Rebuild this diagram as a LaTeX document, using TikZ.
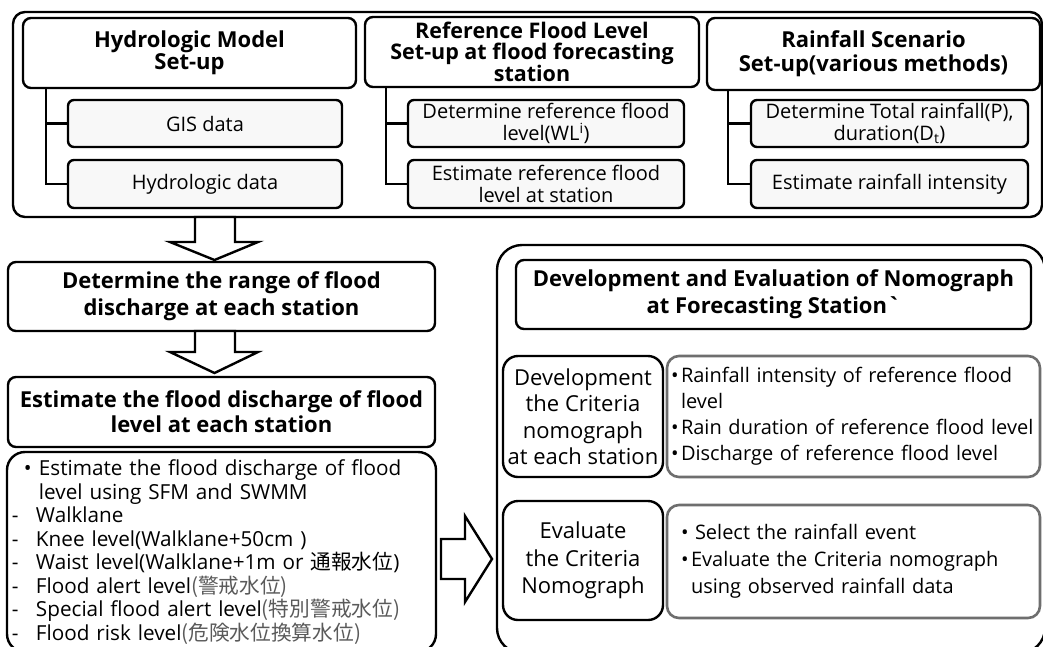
\documentclass[tikz,border=0pt]{standalone}
\usepackage{fontspec}
\setmainfont{Open Sans}
\newfontfamily\nolig{Open Sans}[Ligatures=TeXOff]
\newfontfamily\jp{Noto Sans CJK JP}
\definecolor{gbord}{HTML}{6E6E6E}
\definecolor{subfill}{HTML}{F8F8F8}
\definecolor{kanji}{HTML}{5A5A5A}
\newcommand\bul[1]{\makebox[#1][l]{•}}
\newcommand\dsh{\makebox[24pt][l]{-}}
\tikzset{
  bx/.style={draw, line width=2.4pt, rounded corners=8pt, align=center, inner sep=1pt},
  ttl/.style={bx, font=\bfseries\fontsize{22}{22}\selectfont},
  subbox/.style={bx, fill=subfill, rounded corners=6pt, font=\fontsize{20}{22}\selectfont},
  bigbox/.style={draw, line width=2.4pt},
  graybox/.style={draw=gbord, line width=2.6pt, rounded corners=12pt, align=left, inner sep=3pt, font=\fontsize{20}{26}\selectfont},
  roundbox/.style={draw, line width=2.4pt, rounded corners=15pt, align=center, inner sep=1pt, font=\fontsize{22}{26.5}\selectfont},
  conn/.style={line width=2.4pt},
  hollow/.style={draw, line width=2.4pt, fill=white, line join=miter}
}
\begin{document}
\begin{tikzpicture}[x=1pt,y=-1pt]
\useasboundingbox (0,0) rectangle (1043,646);
\clip (0,0) rectangle (1043,646);
\fill[white] (0,0) rectangle (1043,646);

% top outer box
\node[bigbox, rounded corners=12pt, minimum width=1029pt, minimum height=205pt] (top) at (527.5,114.5) {};

% three columns
\node[ttl, minimum width=333pt, minimum height=70pt] (h1) at (189.5,53) {Hydrologic Model\\Set-up};
\node[ttl, minimum width=334pt, minimum height=70pt, font=\bfseries\fontsize{21.5}{21}\selectfont] (h2) at (532,52) {Reference Flood Level\\Set-up at flood forecasting\\station};
\node[ttl, minimum width=333pt, minimum height=72pt, font=\bfseries\fontsize{22}{24}\selectfont] (h3) at (873.5,54) {Rainfall Scenario\\Set-up(various methods)};

\node[subbox, minimum width=274pt, minimum height=47pt] (s11) at (205,123.5) {GIS data};
\node[subbox, minimum width=274pt, minimum height=48pt] (s12) at (205,184) {Hydrologic data};
\node[subbox, minimum width=276pt, minimum height=47pt] (s21) at (546,123.5) {Determine reference flood\\level(WL\textsuperscript{i})};
\node[subbox, minimum width=276pt, minimum height=48pt] (s22) at (546,184) {Estimate reference flood\\level at station};
\node[subbox, minimum width=277pt, minimum height=47pt] (s31) at (889.5,123.5) {Determine Total rainfall(P),\\duration(D\textsubscript{t})};
\node[subbox, minimum width=277pt, minimum height=48pt] (s32) at (889.5,184) {Estimate rainfall intensity};

\draw[conn] (h1.south west) ++(24,0) |- (s12.west);
\draw[conn] (s11.west) -- ++(-21,0);
\draw[conn] (h2.south west) ++(22,0) |- (s22.west);
\draw[conn] (s21.west) -- ++(-21,0);
\draw[conn] (h3.south west) ++(22,0) |- (s32.west);
\draw[conn] (s31.west) -- ++(-22,0);

% left column
\node[ttl, minimum width=427pt, minimum height=69pt, font=\bfseries\fontsize{22}{27}\selectfont] (d1) at (221.5,296.5) {Determine the range of flood\\discharge at each station};
\node[ttl, minimum width=427pt, minimum height=70pt, font=\bfseries\fontsize{22}{25}\selectfont] (d2) at (221.5,412) {Estimate the flood discharge of flood\\level at each station};

\path[hollow] (195,217) -- (235,217) -- (235,242) -- (258,242) -- (214.5,260) -- (170,242) -- (195,242) -- cycle;
\path[hollow] (195,331) -- (235,331) -- (235,352) -- (258,352) -- (214.5,373) -- (170,352) -- (195,352) -- cycle;

\node[draw, line width=2.4pt, rounded corners=18pt, minimum width=427pt, minimum height=200pt, text width=419pt, align=left, inner xsep=5pt, inner ysep=3pt, xshift=0pt, font=\fontsize{20.7}{23.5}\selectfont] (lst) at (221.5,552) {%
\hspace*{12pt}\bul{15pt}Estimate the flood discharge of flood\\
\hspace*{27pt}level using SFM and SWMM\\
\dsh Walklane\\
\dsh Knee level(Walklane+50cm )\\
\dsh Waist level(Walklane+1m or {\jp 通報水位})\\
\dsh Flood alert level{\jp\color{kanji}(警戒水位)}\\
\dsh Special flood alert level{\jp\color{kanji}(特別警戒水位)}\\
\dsh Flood risk level{\jp\color{kanji}(危険水位換算水位)}};

% right arrow
\path[hollow] (441,539) -- (465,539) -- (465,516) -- (492,559) -- (465,602) -- (465,579) -- (441,579) -- cycle;

% right big box
\node[bigbox, rounded corners=25pt, minimum width=548pt, minimum height=408pt] (rbig) at (771,449) {};
\node[ttl, minimum width=515pt, minimum height=69pt, font=\bfseries\fontsize{22}{27}\selectfont] (t) at (773.5,294.5) {Development and Evaluation of Nomograph\\at Forecasting Station{\nolig`}};

\node[roundbox, minimum width=160pt, minimum height=121pt] (dev) at (583,416.5) {Development\\the Criteria\\nomograph\\at each station};
\node[graybox, minimum width=373pt, minimum height=121pt, text width=365pt] (g1) at (853.5,416.5) {%
\bul{10pt}Rainfall intensity of reference flood\\
\hspace*{10pt}level\\
\bul{10pt}Rain duration of reference flood level\\
\bul{10pt}Discharge of reference flood level};

\node[roundbox, minimum width=160pt, minimum height=119pt, font=\fontsize{22}{27.5}\selectfont] (ev) at (583,560.5) {Evaluate\\the Criteria\\Nomograph};
\node[graybox, minimum width=373pt, minimum height=113pt, text width=365pt, font=\fontsize{20}{27}\selectfont] (g2) at (853.5,561.5) {%
\hspace*{10pt}\bul{14pt}Select the rainfall event\\
\hspace*{10pt}\bul{10pt}Evaluate the Criteria nomograph\\
\hspace*{20pt}using observed rainfall data};
\end{tikzpicture}
\end{document}
